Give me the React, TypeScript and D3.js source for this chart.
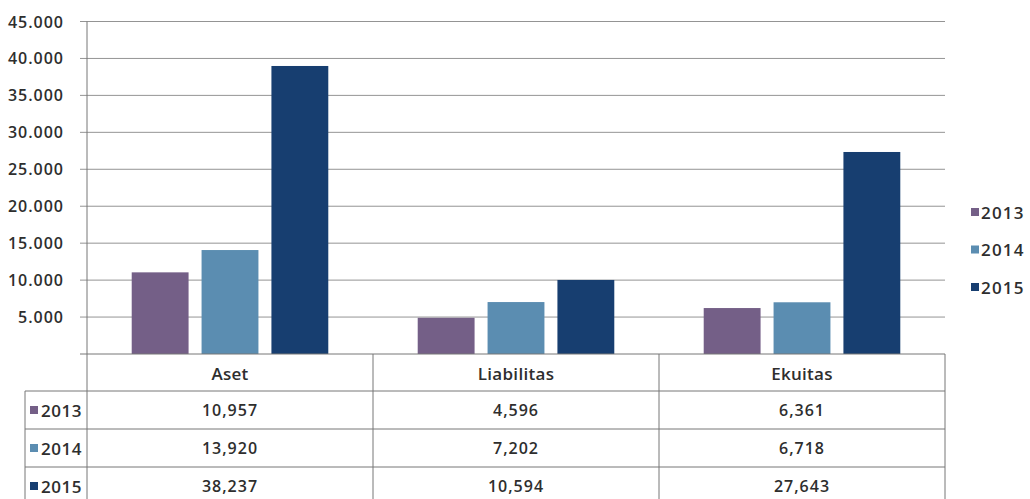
import React from "react";
import * as d3 from "d3";

const categories = ["Aset", "Liabilitas", "Ekuitas"];
const years = ["2013", "2014", "2015"];
// bar heights
const bars2013 = [11050, 4900, 6220];
const bars2014 = [14070, 7030, 7000];
const bars2015 = [38980, 10020, 27340];
// data table values (text)
const table2013 = ["10,957", "4,596", "6,361"];
const table2014 = ["13,920", "7,202", "6,718"];
const table2015 = ["38,237", "10,594", "27,643"];
const yTicks = [5000, 10000, 15000, 20000, 25000, 30000, 35000, 40000, 45000];
const colors = ["#745f87", "#5b8db1", "#173e70"];

const W = 1030;
const H = 499;
const L = 87;
const R = 945;
const Y0 = 354;
const YTOP = 21.5;
const FONT = "'Open Sans', 'DejaVu Sans', sans-serif";
const TXT = "#2e2e2e";

export default function App() {
  const barSeries = [bars2013, bars2014, bars2015];
  const tableSeries = [table2013, table2014, table2015];
  const x0 = d3.scaleBand<string>().domain(categories).range([L, R]);
  const x1 = d3
    .scaleBand<string>()
    .domain(years)
    .range([0, x0.bandwidth()])
    .paddingInner(0.186)
    .paddingOuter(0.64);
  const y = d3.scaleLinear().domain([0, 45000]).range([Y0, YTOP]);
  const fmt = (v: number) => d3.format(",")(v).replace(/,/g, ".");

  const rowTop = [391, 429, 467];
  const rowH = 38;

  return (
    <svg
      width={W}
      height={H}
      style={{ position: "absolute", left: 0, top: 0, background: "#fff" }}
      fontFamily={FONT}
    >
      {/* gridlines */}
      {yTicks.map((t) => (
        <line key={t} x1={80} x2={R} y1={y(t)} y2={y(t)} stroke="#949494" strokeWidth={1} />
      ))}
      {/* y labels */}
      {yTicks.map((t) => (
        <text
          key={"l" + t}
          x={64}
          y={y(t)}
          textAnchor="end"
          dominantBaseline="central"
          fontSize={16}
          fontWeight={600}
          fill={TXT}
          letterSpacing={1}
        >
          {fmt(t)}
        </text>
      ))}
      {/* bars */}
      {categories.map((c, ci) =>
        years.map((yr, si) => {
          const v = barSeries[si][ci];
          return (
            <rect
              key={c + yr}
              x={(x0(c) as number) + (x1(yr) as number)}
              y={y(v)}
              width={x1.bandwidth()}
              height={Y0 - y(v)}
              fill={colors[si]}
            />
          );
        })
      )}
      {/* axes */}
      <line x1={L} x2={L} y1={YTOP} y2={H} stroke="#777" strokeWidth={1} />
      <line x1={80} x2={R} y1={Y0} y2={Y0} stroke="#777" strokeWidth={1} />
      {/* data table */}
      {categories.map((c) => (
        <line
          key={"v" + c}
          x1={(x0(c) as number) + x0.bandwidth()}
          x2={(x0(c) as number) + x0.bandwidth()}
          y1={Y0}
          y2={H}
          stroke="#777"
          strokeWidth={1}
        />
      ))}
      <line x1={25} x2={25} y1={rowTop[0]} y2={H} stroke="#777" strokeWidth={1} />
      {rowTop.map((ry) => (
        <line key={"h" + ry} x1={25} x2={R} y1={ry} y2={ry} stroke="#777" strokeWidth={1} />
      ))}
      {categories.map((c) => (
        <text
          key={"c" + c}
          x={(x0(c) as number) + x0.bandwidth() / 2}
          y={373}
          textAnchor="middle"
          dominantBaseline="central"
          fontSize={17}
          fontWeight={600}
          fill={TXT}
          letterSpacing={0.3}
        >
          {c}
        </text>
      ))}
      {years.map((yr, si) => (
        <g key={"r" + yr}>
          <rect x={30} y={rowTop[si] + rowH / 2 - 4} width={8} height={8} fill={colors[si]} />
          <text
            x={41}
            y={rowTop[si] + rowH / 2}
            dominantBaseline="central"
            fontSize={17}
            fontWeight={600}
            fill={TXT}
            letterSpacing={0.5}
          >
            {yr}
          </text>
          {categories.map((c, ci) => (
            <text
              key={c}
              x={(x0(c) as number) + x0.bandwidth() / 2}
              y={rowTop[si] + rowH / 2}
              textAnchor="middle"
              dominantBaseline="central"
              fontSize={16}
              fontWeight={600}
              fill={TXT}
              letterSpacing={1}
            >
              {tableSeries[si][ci]}
            </text>
          ))}
        </g>
      ))}
      {/* legend */}
      {years.map((yr, si) => (
        <g key={"lg" + yr} transform={`translate(971, ${212 + si * 37.5})`}>
          <rect x={0} y={-4} width={8} height={8} fill={colors[si]} />
          <text
            x={10}
            y={0}
            dominantBaseline="central"
            fontSize={17}
            fontWeight={600}
            fill={TXT}
            letterSpacing={1.2}
          >
            {yr}
          </text>
        </g>
      ))}
    </svg>
  );
}
